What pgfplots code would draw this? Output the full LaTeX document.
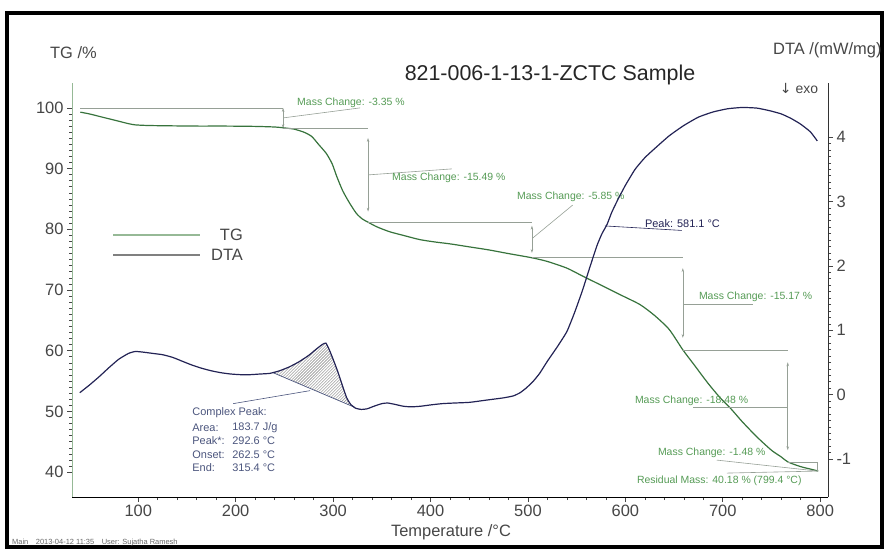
\documentclass[border=0pt]{standalone}
\usepackage{fontspec}
\setmainfont{Liberation Sans}
\newfontfamily\dejavu{DejaVu Sans}
\usepackage{pgfplots}
\pgfplotsset{compat=1.18}
\usetikzlibrary{patterns,arrows.meta}
\definecolor{tgc}{RGB}{55,115,60}
\definecolor{dtac}{RGB}{35,35,85}
\definecolor{anng}{RGB}{85,155,85}
\definecolor{annl}{RGB}{150,160,150}
\definecolor{cpk}{RGB}{75,85,125}
\definecolor{tickc}{RGB}{70,70,70}
\definecolor{tgax}{RGB}{150,185,150}
\newcommand{\tfont}{\fontsize{16.5}{18}\selectfont}
\newcommand{\afont}{\fontsize{10.5}{12}\selectfont}
\newcommand{\cfont}{\fontsize{11}{12}\selectfont}
\tikzset{ann/.style={draw=annl,line width=0.6bp},
  dar/.style={draw=annl,line width=0.6bp,{Stealth[length=4bp,width=2.5bp]}-{Stealth[length=4bp,width=2.5bp]}},
  atext/.style={anchor=west,inner sep=0pt,text=anng,font=\afont}}
\begin{document}
\begin{tikzpicture}
\useasboundingbox (-72bp,-52bp) rectangle (813bp,497bp);
\draw[line width=3.5bp,black] (-65bp,-50bp) rectangle (810bp,484bp);
\begin{axis}[at={(0bp,0bp)}, anchor=south west, scale only axis,
  width=756bp, height=414bp,
  xmin=32, xmax=808, ymin=35.9, ymax=104.1,
  axis x line*=bottom, axis y line*=left,
  x axis line style={black,line width=0.9bp},
  y axis line style={tgax,line width=0.9bp},
  xtick={100,200,...,800}, ytick={40,50,...,100},
  minor x tick num=4, minor y tick num=9,
  tick align=outside, major tick length=5bp, minor tick length=3bp,
  tick style={tickc,line width=0.6bp},
  /pgf/number format/assume math mode=true,
  tick label style={font=\tfont,text=tickc},
  clip=false]
\addplot[tgc,line width=1.2bp,smooth,tension=0.4] coordinates {
(40.5,99.3)(50,99.0)(60,98.6)(70,98.2)(80,97.8)(90,97.4)(97,97.2)(110,97.1)(130,97.05)
(160,97.0)(190,97.0)(220,96.95)(240,96.85)(250,96.7)(260,96.5)(270,96.0)(278,95.3)
(285,94.0)(293,92.5)(299,90.8)(304,88.6)(310,86.3)(317,84.3)(324,82.6)(330,81.7)
(336,81.16)(345,80.4)(358,79.6)(372,79.0)(389,78.3)(405,77.9)(420,77.6)(440,77.1)
(460,76.6)(480,76.0)(504,75.31)(520,74.7)(540,73.6)(556,72.3)(575,70.8)(595,69.2)
(615,67.6)(630,65.8)(645,63.5)(659,60.14)(670,57.8)(685,54.6)(697,52.3)(708,50.5)
(720,48.3)(735,45.8)(750,43.6)(760,42.5)(767,41.66)(780,40.9)(790,40.5)(798,40.18)};
% step annotations
\draw[ann] (40.5,100) -- (248.7,100);
\draw[dar] (248.7,100) -- (248.7,96.65);
\draw[ann] (248.7,96.65) -- (335.9,96.65);
\draw[ann] (248.7,98.35) -- (327.7,100);
\node[atext] at (263,100.8) {Mass Change: -3.35 \%};
\draw[dar] (335.9,95.05) -- (335.9,82.9);
\draw[ann] (335.9,81.16) -- (504.1,81.16);
\draw[ann] (335.9,88.96) -- (422,89.95);
\node[atext] at (360.5,88.46) {Mass Change: -15.49 \%};
\draw[dar] (504.1,80.6) -- (504.1,76.1);
\draw[ann] (504.1,75.31) -- (659,75.31);
\draw[ann] (505,78.57) -- (546,84.0);
\node[atext] at (488.7,85.33) {Mass Change: -5.85 \%};
\draw[dar] (659,73.6) -- (659,62.1);
\draw[ann] (659,60.14) -- (766.7,60.14);
\draw[ann] (659,67.7) -- (730.8,67.7);
\node[atext] at (675.4,68.85) {Mass Change: -15.17 \%};
\draw[dar] (766.7,58.1) -- (766.7,43.6);
\draw[ann] (766.7,41.66) -- (797.4,41.66) -- (797.4,40.18);
\draw[ann] (766.7,50.7) -- (669.2,50.7);
\node[atext] at (609.7,51.7) {Mass Change: -18.48 \%};
\draw[ann] (797.4,40.17) -- (693.8,41.98);
\node[atext] at (633.3,43.13) {Mass Change: -1.48 \%};
\draw[ann] (797.4,40.17) -- (704.1,39.84);
\node[atext] at (611.8,38.5) {Residual Mass: 40.18 \% (799.4 °C)};
\end{axis}
\begin{axis}[at={(0bp,0bp)}, anchor=south west, scale only axis,
  width=756bp, height=414bp,
  xmin=32, xmax=808, ymin=-1.59, ymax=4.84,
  axis x line=none, axis y line*=right,
  y axis line style={black!80,line width=0.9bp},
  ytick={-1,0,...,4}, minor y tick num=9,
  tick align=outside, major tick length=5bp, minor tick length=3bp,
  tick style={tickc,line width=0.6bp},
  /pgf/number format/assume math mode=true,
  tick label style={font=\tfont,text=tickc},
  clip=false]
\addplot[draw=none,pattern=north east lines,pattern color=gray] coordinates {
(238.5,0.34)(245,0.37)(255,0.43)(265,0.51)(275,0.61)(283,0.71)(289,0.78)(292.6,0.80)
(296,0.70)(300,0.55)(305,0.35)(310,0.12)(314,-0.05)(318,-0.15)(322.6,-0.20)(238.5,0.34)};
\draw[cpk,line width=0.7bp] (238.5,0.34) -- (322.6,-0.20);
\addplot[dtac,line width=1.2bp,smooth,tension=0.3] coordinates {
(40,0.03)(50,0.15)(60,0.28)(70,0.42)(80,0.55)(90,0.64)(97,0.67)(105,0.66)(115,0.64)
(125,0.62)(135,0.58)(145,0.52)(155,0.46)(165,0.41)(175,0.37)(185,0.34)(195,0.32)
(205,0.31)(215,0.31)(225,0.32)(235,0.33)(245,0.37)(255,0.43)(265,0.51)(275,0.61)
(283,0.71)(289,0.78)(292.6,0.80)(296,0.70)(300,0.55)(305,0.35)(310,0.12)(314,-0.05)
(318,-0.15)(323,-0.21)(329,-0.23)(335,-0.22)(342,-0.18)(350,-0.14)(356,-0.13)
(363,-0.15)(372,-0.18)(380,-0.19)(390,-0.18)(400,-0.16)(412,-0.14)(425,-0.13)
(440,-0.12)(455,-0.09)(465,-0.07)(475,-0.05)(485,-0.02)(492,0.03)(498,0.10)(505,0.20)
(512,0.33)(520,0.52)(530,0.74)(540,0.98)(548,1.28)(556,1.62)(564,2.00)(571,2.32)
(576,2.50)(581.1,2.64)(586,2.83)(592,3.02)(600,3.25)(610,3.50)(620,3.68)(630,3.82)
(645,4.02)(660,4.18)(675,4.31)(690,4.39)(705,4.44)(720,4.46)(735,4.45)(748,4.41)
(760,4.36)(770,4.29)(780,4.20)(790,4.08)(797,3.94)};
\draw[cpk,line width=0.6bp] (197.4,-0.14) -- (276.4,0.062);
\node[anchor=west,inner sep=0pt,text=cpk,font=\cfont] at (155.4,-0.28) {Complex Peak:};
\node[anchor=west,inner sep=0pt,text=cpk,font=\cfont] at (155.4,-0.51) {Area:};
\node[anchor=west,inner sep=0pt,text=cpk,font=\cfont] at (196.4,-0.51) {183.7 J/g};
\node[anchor=west,inner sep=0pt,text=cpk,font=\cfont] at (155.4,-0.71) {Peak*:};
\node[anchor=west,inner sep=0pt,text=cpk,font=\cfont] at (196.4,-0.71) {292.6 °C};
\node[anchor=west,inner sep=0pt,text=cpk,font=\cfont] at (155.4,-0.93) {Onset:};
\node[anchor=west,inner sep=0pt,text=cpk,font=\cfont] at (196.4,-0.93) {262.5 °C};
\node[anchor=west,inner sep=0pt,text=cpk,font=\cfont] at (155.4,-1.13) {End:};
\node[anchor=west,inner sep=0pt,text=cpk,font=\cfont] at (196.4,-1.13) {315.4 °C};
\draw[dtac,line width=0.6bp] (579,2.62) -- (658,2.55);
\node[anchor=west,inner sep=0pt,text=dtac,font=\cfont] at (620,2.655) {Peak: 581.1 °C};
\end{axis}
% titles and labels
\node[font=\fontsize{21.5}{24}\selectfont,text=black!85] at (478bp,422bp) {821-006-1-13-1-ZCTC Sample};
\node[anchor=west,inner sep=0pt,font=\tfont,text=tickc] at (-22bp,444bp) {TG /\%};
\node[anchor=west,inner sep=0pt,font=\tfont,text=tickc] at (701bp,447bp) {DTA /(mW/mg)};
\node[font=\fontsize{14}{16}\selectfont,text=tickc] at (727bp,409bp) {{\dejavu ↓} exo};
\node[font=\tfont,text=tickc] at (379bp,-35bp) {Temperature /°C};
\node[anchor=west,inner sep=0pt,font=\fontsize{7.5}{8}\selectfont,text=black!60] at (-60bp,-46bp) {Main\quad 2013-04-12 11:35\quad User: Sujatha Ramesh};
% legend
\draw[tgax,line width=1.2bp] (41bp,262bp) -- (128bp,262bp);
\draw[black!50,line width=1.2bp] (41bp,242bp) -- (128bp,242bp);
\node[anchor=east,inner sep=0pt,font=\tfont,text=tickc] at (171bp,262bp) {TG};
\node[anchor=east,inner sep=0pt,font=\tfont,text=tickc] at (171bp,242bp) {DTA};
\end{tikzpicture}
\end{document}
